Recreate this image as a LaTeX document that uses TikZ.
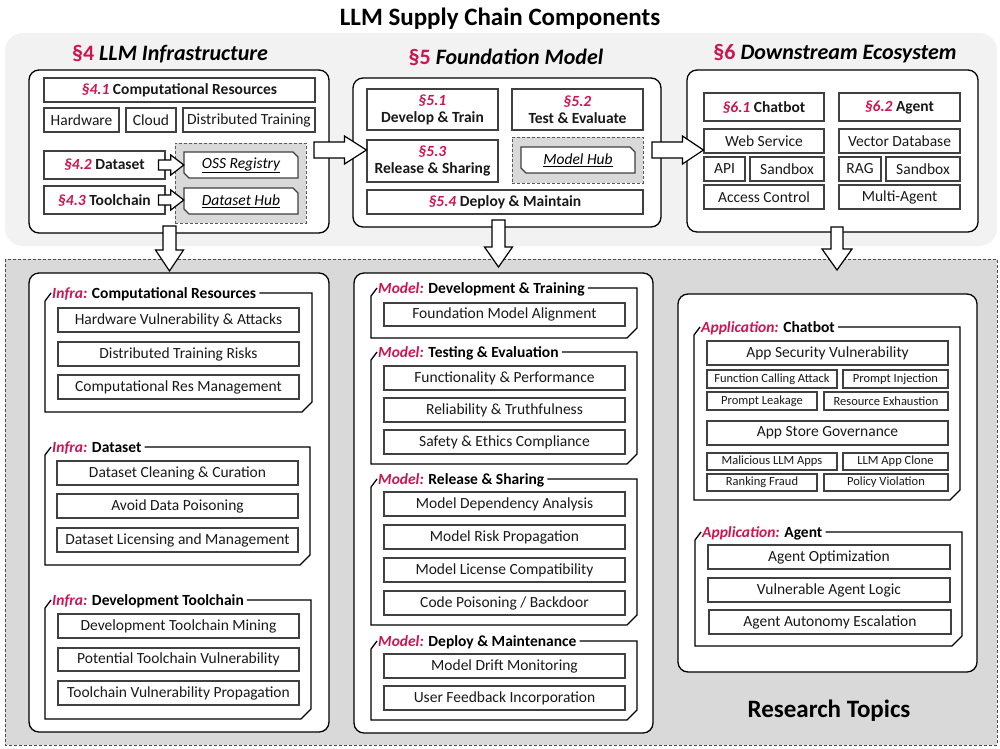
\documentclass[tikz,border=0pt]{standalone}
\usepackage{fontspec}
\setmainfont{Carlito}
\usetikzlibrary{calc}
\definecolor{crim}{RGB}{204,22,82}
\definecolor{band}{RGB}{242,242,242}
\definecolor{mid}{RGB}{217,217,217}
\definecolor{bord}{RGB}{64,64,64}
\newcommand\fsz[1]{\fontsize{#1}{#1}\selectfont}
\tikzset{
 itembox/.style={draw=bord, line width=1.1pt, fill=white, inner sep=0pt, font=\fsz{15.5}, text=black!90},
 smallbox/.style={itembox, font=\fsz{12.5}},
 secbox/.style={itembox, font=\bfseries\fsz{15.5}},
 secboxtwo/.style={itembox, align=center, font=\bfseries\fontsize{15.5}{17}\selectfont},
 panel/.style={draw=black, line width=1.3pt, fill=white, rounded corners=10pt, inner sep=0pt},
 hubregion/.style={draw=black!65, dash pattern=on 3pt off 2pt, line width=0.9pt, fill=mid, inner sep=0pt},
 blockarrow/.style={draw=black, line width=1.2pt, fill=white, line join=miter},
 grpline/.style={draw=black, line width=1.3pt},
 grphead/.style={inner sep=0pt, font=\fsz{15.5}},
 chamf/.style={draw=bord, line width=1.1pt, fill=white},
 sechead/.style={font=\bfseries\fsz{22}, anchor=base},
}
\newcommand\bx[7][]{\node[itembox,minimum width={(#5-#3)*1pt},minimum height={(#6-#4)*1pt},#1] (#2) at ({(#3+#5)/2},{(#4+#6)/2}) {#7};}
\newcommand\chbox[6]{%
 \draw[chamf] (#2,#3) -- ({#4-5},#3) -- (#4,{#3+5}) -- (#4,#5) -- ({#2+5},#5) -- (#2,{#5-5}) -- cycle;
 \node[inner sep=0pt,font=\itshape\fsz{15.5},minimum width={(#4-#2)*1pt},minimum height={(#5-#3)*1pt}] (#1) at ({(#2+#4)/2},{(#3+#5)/2}) {\underline{#6}};}
\newcommand\grp[7]{%
 \coordinate (#1-t) at (#2,#3);
 \node[grphead,anchor=base west] (#1) at ({#2+7},{#3+5}) {\textcolor{crim}{\bfseries\itshape #6:} \textbf{#7}};
 \draw[grpline] ($(#1.east |- #1-t)+(3,0)$) -- (#4,#3) -- (#4,{#5-10}) -- ({#4-10},#5) -- (#2,#5) -- (#2,{#3+8}) -- ({#2+6},#3);}
\newcommand\harr[5]{\draw[blockarrow] let \p1=(#1), \p2=(#2) in
 (\x1,{\y1+#3pt}) -- ({\x2-#5pt},{\y1+#3pt}) -- ({\x2-#5pt},{\y1+#4pt}) -- (\x2,\y1) -- ({\x2-#5pt},{\y1-#4pt}) -- ({\x2-#5pt},{\y1-#3pt}) -- (\x1,{\y1-#3pt}) -- cycle;}
\newcommand\varr[5]{\draw[blockarrow] let \p1=(#1), \p2=(#2) in
 ({\x1-#3pt},\y1) -- ({\x1-#3pt},{\y2+#5pt}) -- ({\x1-#4pt},{\y2+#5pt}) -- (\x1,\y2) -- ({\x1+#4pt},{\y2+#5pt}) -- ({\x1+#3pt},{\y2+#5pt}) -- ({\x1+#3pt},\y1) -- cycle;}
\newcommand\sect[1]{\textcolor{crim}{\textit{#1}}}
\begin{document}
\begin{tikzpicture}[x=1pt,y=-1pt]
\useasboundingbox (0,0) rectangle (1000,748);
\fill[white] (0,0) rectangle (1000,748);
% backgrounds
\fill[band, rounded corners=18pt] (5,33) rectangle (997,246);
\draw[fill=mid, draw=black!70, line width=0.8pt, dash pattern=on 3pt off 2pt] (5,259) rectangle (997,745);
% title
\node[font=\bfseries\fsz{25}, anchor=base] (title) at (500,25) {LLM Supply Chain Components};
\node[sechead] (h4) at (170,60) {\textcolor{crim}{§4} \textit{LLM Infrastructure}};
\node[sechead] (h5) at (506,64) {\textcolor{crim}{§5} \textit{Foundation Model}};
\node[sechead] (h6) at (835,59) {\textcolor{crim}{§6} \textit{Downstream Ecosystem}};
% panel 4
\bx[panel]{p4}{29}{70}{329}{233}{}
\bx[secbox]{s41}{44}{78}{315}{102}{\sect{§4.1} Computational Resources}
\bx{hw}{44}{108}{119}{132}{Hardware}
\bx{cloud}{126}{108}{176}{132}{Cloud}
\bx{dist}{183}{108}{315}{132}{Distributed Training}
\bx[hubregion]{hub4}{175}{143}{306}{223}{}
\bx[secbox]{s42}{44}{151}{165}{179}{\sect{§4.2} Dataset}
\bx[secbox]{s43}{44}{186}{165}{214}{\sect{§4.3} Toolchain}
\chbox{oss}{184}{152}{298}{178}{OSS Registry}
\chbox{dhub}{184}{188}{298}{214}{Dataset Hub}
\harr{$(s42.east)+(-7,0)$}{oss.west}{5}{10}{13}
\harr{$(s43.east)+(-7,0)$}{dhub.west}{5}{10}{13}
% panel 5
\bx[panel]{p5}{353}{78}{661}{227}{}
\bx[secboxtwo]{s51}{367}{89}{498}{130}{\sect{§5.1}\\Develop \& Train}
\bx[secboxtwo]{s52}{512}{89}{643}{130}{\sect{§5.2}\\Test \& Evaluate}
\bx[secboxtwo]{s53}{367}{140}{498}{182}{\sect{§5.3}\\Release \& Sharing}
\bx[hubregion]{hub5}{512}{137}{643}{183}{}
\chbox{mhub}{521}{147}{635}{173}{Model Hub}
\bx[secbox]{s54}{367}{190}{643}{214}{\sect{§5.4} Deploy \& Maintain}
% panel 6
\bx[panel]{p6}{687}{70}{978}{232}{}
\bx[secbox]{s61}{704}{93}{824}{121}{\sect{§6.1} Chatbot}
\bx[secbox]{s62}{839}{93}{960}{121}{\sect{§6.2} Agent}
\bx{web}{704}{129}{824}{153}{Web Service}
\bx{vdb}{839}{129}{960}{153}{Vector Database}
\bx{api}{704}{157}{745}{181}{API}
\bx{sba}{750}{157}{824}{181}{Sandbox}
\bx{rag}{839}{157}{881}{181}{RAG}
\bx{sbb}{886}{157}{960}{181}{Sandbox}
\bx{acc}{704}{185}{824}{209}{Access Control}
\bx{magent}{839}{185}{960}{209}{Multi-Agent}
% bottom panels
\bx[panel]{pinfra}{29}{273}{329}{732}{}
\grp{gia}{45}{293}{312}{412}{Infra}{Computational Resources}
\bx{iaa}{58}{308}{299}{332}{Hardware Vulnerability \& Attacks}
\bx{iab}{58}{342}{299}{366}{Distributed Training Risks}
\bx{iac}{58}{375}{299}{399}{Computational Res Management}
\grp{gib}{45}{447}{310}{565}{Infra}{Dataset}
\bx{iba}{57}{461}{298}{485}{Dataset Cleaning \& Curation}
\bx{ibb}{57}{494}{298}{518}{Avoid Data Poisoning}
\bx{ibc}{57}{528}{298}{552}{Dataset Licensing and Management}
\grp{gic}{45}{600}{311}{719}{Infra}{Development Toolchain}
\bx{ica}{58}{614}{299}{638}{Development Toolchain Mining}
\bx{icb}{58}{648}{299}{671}{Potential Toolchain Vulnerability}
\bx{icc}{58}{681}{299}{705}{Toolchain Vulnerability Propagation}
\bx[panel]{pmodel}{354}{273}{653}{733}{}
\grp{gma}{371}{288}{637}{338}{Model}{Development \& Training}
\bx{maa}{384}{303}{625}{326}{Foundation Model Alignment}
\grp{gmb}{371}{352}{637}{464}{Model}{Testing \& Evaluation}
\bx{mba}{384}{366}{625}{390}{Functionality \& Performance}
\bx{mbb}{384}{398}{625}{422}{Reliability \& Truthfulness}
\bx{mbc}{384}{430}{625}{454}{Safety \& Ethics Compliance}
\grp{gmc}{371}{479}{637}{625}{Model}{Release \& Sharing}
\bx{mca}{384}{492}{625}{516}{Model Dependency Analysis}
\bx{mcb}{384}{525}{625}{549}{Model Risk Propagation}
\bx{mcc}{384}{558}{625}{582}{Model License Compatibility}
\bx{mcd}{384}{591}{625}{615}{Code Poisoning / Backdoor}
\grp{gmd}{371}{641}{637}{720}{Model}{Deploy \& Maintenance}
\bx{mda}{384}{654}{625}{678}{Model Drift Monitoring}
\bx{mdb}{384}{686}{625}{710}{User Feedback Incorporation}
\bx[panel]{papp}{678}{294}{977}{672}{}
\grp{gaa}{694}{327}{960}{500}{Application}{Chatbot}
\bx{aaa}{707}{341}{948}{365}{App Security Vulnerability}
\bx[smallbox]{aab}{707}{370}{837}{388}{Function Calling Attack}
\bx[smallbox]{aac}{843}{370}{948}{388}{Prompt Injection}
\bx[smallbox]{aad}{707}{392}{817}{410}{Prompt Leakage}
\bx[smallbox]{aae}{824}{392}{948}{410}{Resource Exhaustion}
\bx{aaf}{707}{421}{948}{445}{App Store Governance}
\bx[smallbox]{aag}{707}{453}{837}{470}{Malicious LLM Apps}
\bx[smallbox]{aah}{843}{453}{948}{470}{LLM App Clone}
\bx[smallbox]{aai}{707}{474}{817}{491}{Ranking Fraud}
\bx[smallbox]{aaj}{824}{474}{948}{491}{Policy Violation}
\grp{gab}{695}{532}{962}{646}{Application}{Agent}
\bx{aba}{708}{545}{950}{569}{Agent Optimization}
\bx{abb}{708}{578}{950}{602}{Vulnerable Agent Logic}
\bx{abc}{709}{610}{951}{634}{Agent Autonomy Escalation}
\node[font=\bfseries\fsz{25}, anchor=base] (rt) at (829,717) {Research Topics};
% big arrows
\coordinate (A45s) at (314,150);
\harr{A45s}{s53.west |- A45s}{8}{14}{22}
\coordinate (A56s) at (652,150);
\harr{A56s}{web.west |- A56s}{8}{14}{21}
\coordinate (D4s) at (169.5,226);
\coordinate (D4e) at (169.5,271);
\varr{D4s}{D4e}{6.5}{14}{21}
\coordinate (D5s) at (498.5,220);
\coordinate (D5e) at (498.5,267);
\varr{D5s}{D5e}{6.5}{14}{20}
\coordinate (D6s) at (837,227);
\coordinate (D6e) at (837,270);
\varr{D6s}{D6e}{6}{15}{21}
\end{tikzpicture}
\end{document}
